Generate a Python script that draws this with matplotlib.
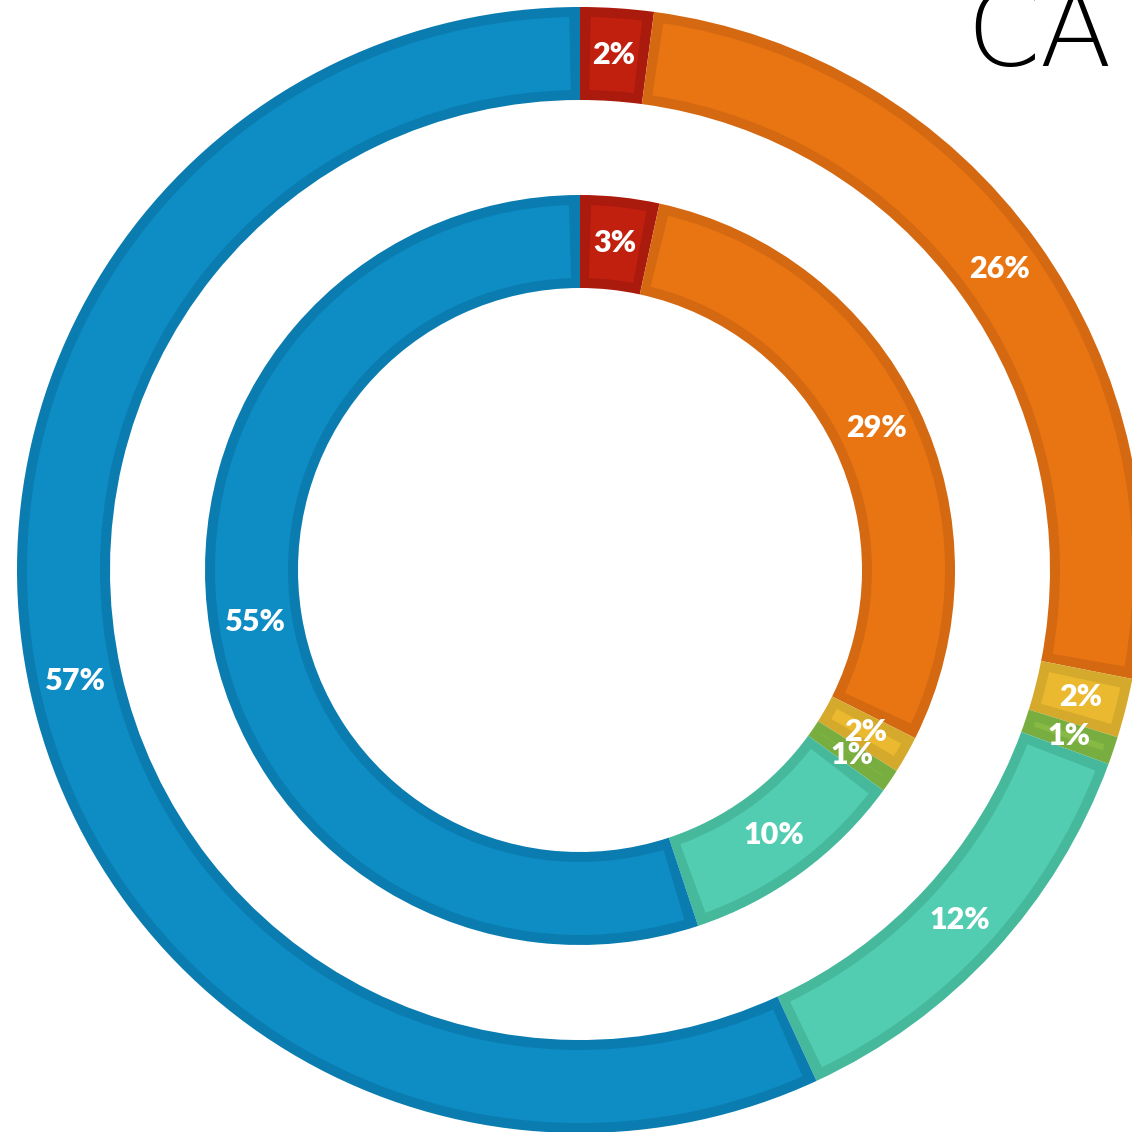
import numpy as np
import matplotlib.pyplot as plt

# two-ring donut, shares by category (outer ring / inner ring)
categories = ['Red', 'Orange', 'Yellow', 'Green', 'Teal', 'Blue']
outer_vals = [2.1, 26.0, 1.7, 0.8, 12.5, 56.9]
inner_vals = [3.4, 29.0, 1.6, 1.0, 9.9, 55.1]

fills = ['#C1200F', '#E87511', '#EAB92F', '#86BA45', '#52CDB2', '#0E8DC5']
borders = ['#AA1A0D', '#D56912', '#D5A92C', '#78AE3F', '#46B99C', '#0A7CB0']

W = 1132
fig = plt.figure(figsize=(W/100., W/100.), dpi=100)
ax = fig.add_axes([0, 0, 1, 1])

cx, cy = 580, W - 570
bw = 10  # border thickness, px

def ring(vals, r_out, r_in):
	mid = (r_out + r_in) / 2.
	# dark base ring
	ax.pie(vals, radius=r_out, center=(cx, cy), startangle=90, counterclock=False,
		colors=borders, wedgeprops=dict(width=r_out - r_in, linewidth=0))
	# lighter fill, inset by the border
	wedges, texts, autotexts = ax.pie(vals, radius=r_out - bw, center=(cx, cy), startangle=90,
		counterclock=False, colors=fills, autopct='%.0f%%', pctdistance=mid / (r_out - bw),
		wedgeprops=dict(width=r_out - r_in - 2 * bw, linewidth=0))
	d = np.degrees(bw / mid)
	for w in wedges:
		t1, t2 = w.theta1, w.theta2
		if t2 - t1 > 2 * d:
			w.set_theta1(t1 + d)
			w.set_theta2(t2 - d)
		else:
			w.set_visible(False)
	for t in autotexts:
		t.set_color('white')
		t.set_fontsize(22)
		t.set_fontweight('heavy')
		t.set_family('Lato')

ring(outer_vals, 563, 470)
ring(inner_vals, 375, 282)

ax.text(966, W - 66, 'CA', fontsize=76, family='DejaVu Sans', fontweight=200, color='black',
	ha='left', va='baseline')

ax.set_xlim(0, W)
ax.set_ylim(0, W)
ax.set_autoscale_on(False)
ax.axis('off')

plt.savefig('out.png', dpi=100)
